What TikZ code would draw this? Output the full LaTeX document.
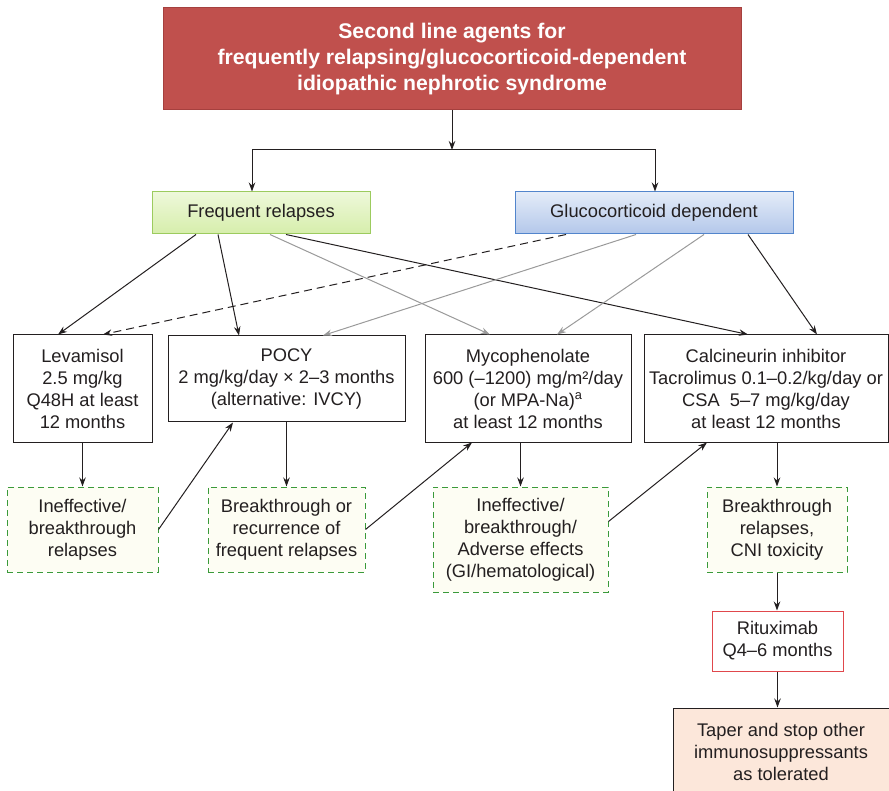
\documentclass[tikz,border=0pt]{standalone}
\usepackage{fontspec}
\setmainfont{Liberation Sans}
\usetikzlibrary{arrows.meta}
\definecolor{titlered}{HTML}{C0504D}
\definecolor{titleedge}{HTML}{A5403E}
\definecolor{frtop}{HTML}{EEF8DA}
\definecolor{frbot}{HTML}{D6EEAB}
\definecolor{fredge}{HTML}{9CCB5E}
\definecolor{gdtop}{HTML}{E4ECF8}
\definecolor{gdbot}{HTML}{B3C7EA}
\definecolor{gdedge}{HTML}{5285CC}
\definecolor{ink}{HTML}{231F20}
\definecolor{faint}{HTML}{9A9A9A}
\definecolor{dashgreen}{HTML}{3A9A3A}
\definecolor{ivory}{HTML}{FDFDF3}
\definecolor{ritred}{HTML}{E0474C}
\definecolor{peach}{HTML}{FCE7DA}

\begin{document}
\begin{tikzpicture}[x=1pt,y=-1pt,
  font=\fontsize{18.3}{22}\selectfont,
  sz/.style 2 args={minimum width=#1,minimum height=#2},
  box/.style={draw=ink,line width=1pt,fill=white,align=center,inner sep=0pt,text=ink},
  outcome/.style={box,draw=dashgreen,fill=ivory,dash pattern=on 6pt off 4pt},
  arr/.style={-{Stealth[length=9pt,width=6.5pt]},line width=1pt,ink},
  grayarr/.style={arr,faint}]
\useasboundingbox (0,0) rectangle (889,791);

\node[box,sz={578pt}{102pt},fill=titlered,draw=titleedge,text=white,
  font=\fontsize{21.2}{26}\selectfont\bfseries] (title) at (452,59)
  {Second line agents for\\frequently relapsing/glucocorticoid-dependent\\idiopathic nephrotic syndrome};
\node[box,sz={218pt}{42pt},draw=fredge,top color=frtop,bottom color=frbot] (fr) at (261,213) {Frequent relapses};
\node[box,sz={278pt}{42pt},draw=gdedge,top color=gdtop,bottom color=gdbot] (gd) at (654,213) {Glucocorticoid dependent};
\coordinate (split) at (452,150);

\node[box,sz={139pt}{107pt}] (lev) at (82.5,388.5) {Levamisol\\2.5 mg/kg\\Q48H at least\\12 months};
\node[box,sz={237pt}{86pt}] (pocy) at (286.5,379) {POCY\\2 mg/kg/day × 2–3 months\\(alternative: IVCY)};
\node[box,sz={206pt}{107pt}] (myco) at (528,388.5) {Mycophenolate\\600 (–1200) mg/m²/day\\(or MPA-Na)\textsuperscript{a}\\at least 12 months};
\node[box,sz={244pt}{107pt}] (cni) at (766,388.5) {Calcineurin inhibitor\\Tacrolimus 0.1–0.2/kg/day or\\CSA\ \ 5–7 mg/kg/day\\at least 12 months};

\node[outcome,sz={151pt}{85pt}] (ineff1) at (82.5,529.5) {Ineffective/\\breakthrough\\relapses};
\node[outcome,sz={157pt}{85pt}] (brk1) at (286.5,529.5) {Breakthrough or\\recurrence of\\frequent relapses};
\node[outcome,sz={175pt}{105pt}] (ineff2) at (520.5,539.5) {Ineffective/\\breakthrough/\\Adverse effects\\(GI/hematological)};
\node[outcome,sz={140pt}{85pt}] (brk2) at (777,529.5) {Breakthrough\\relapses,\\CNI toxicity};

\node[box,sz={131pt}{60pt},draw=ritred] (rit) at (777.5,641) {Rituximab\\Q4–6 months};
\node[box,sz={216pt}{87pt},fill=peach] (taper) at (781,751.5) {Taper and stop other\\immunosuppressants\\as tolerated};

\draw[arr] (title.south) -- (split);
\draw[arr] (split) -| ([xshift=-9pt]fr.north);
\draw[arr] (split) -| ([xshift=1pt]gd.north);

\draw[arr] ([xshift=-65pt]fr.south) -- ([xshift=-24.5pt]lev.north);
\draw[arr] ([xshift=-43pt]fr.south) -- ([xshift=-47.5pt]pocy.north);
\draw[grayarr] ([xshift=9pt]fr.south) -- ([xshift=-38pt]myco.north);
\draw[arr] ([xshift=25pt]fr.south) -- ([xshift=-18pt]cni.north);
\draw[arr,dashed,dash pattern=on 8pt off 5pt] ([xshift=-88pt]gd.south) -- ([xshift=20.5pt]lev.north);
\draw[grayarr] ([xshift=-18pt]gd.south) -- ([xshift=36.5pt]pocy.north);
\draw[grayarr] ([xshift=50pt]gd.south) -- ([xshift=29pt]myco.north);
\draw[arr] ([xshift=94pt]gd.south) -- ([xshift=51pt]cni.north);

\draw[arr] (lev.south) -- (ineff1.north);
\draw[arr] (pocy.south) -- (brk1.north);
\draw[arr] (myco.south -| ineff2.north) -- (ineff2.north);
\draw[arr] (cni.south -| brk2.north) -- (brk2.north);

\draw[arr] (ineff1.east) -- ([xshift=-53.5pt]pocy.south);
\draw[arr] (brk1.east) -- ([xshift=-56pt]myco.south);
\draw[arr] ([yshift=18pt]ineff2.east) -- ([xshift=-59pt]cni.south);

\draw[arr] (brk2.south) -- (brk2.south |- rit.north);
\draw[arr] (rit.south) -- (rit.south |- taper.north);
\end{tikzpicture}
\end{document}
